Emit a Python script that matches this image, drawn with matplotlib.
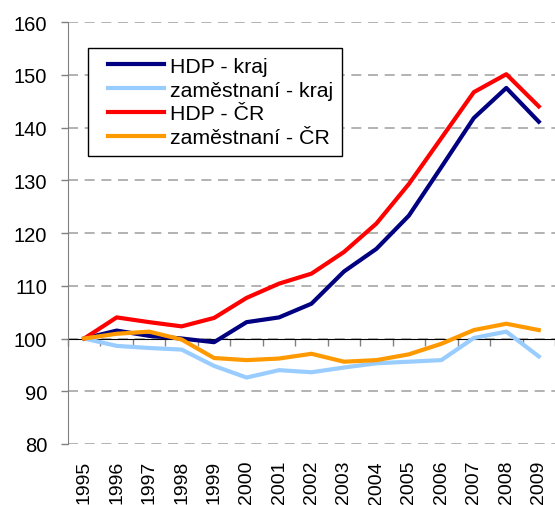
import matplotlib.pyplot as plt
from matplotlib.lines import Line2D
from matplotlib.legend_handler import HandlerLine2D

plt.rcParams['font.family'] = ['Liberation Sans', 'DejaVu Sans']

years = [str(y) for y in range(1995, 2010)]
hdp_kraj = [100, 101.5, 100.5, 100.0, 99.3, 103.1, 104.0, 106.6, 112.7, 117.0,
            123.3, 132.5, 141.8, 147.5, 141.1]
zam_kraj = [100, 98.6, 98.2, 97.9, 94.8, 92.6, 94.0, 93.6, 94.5, 95.3,
            95.6, 95.9, 100.1, 101.3, 96.6]
hdp_cr = [100, 104.0, 103.1, 102.3, 103.9, 107.7, 110.4, 112.3, 116.4, 121.8,
          129.3, 138.0, 146.7, 150.1, 144.0]
zam_cr = [100, 100.9, 101.3, 99.8, 96.3, 95.9, 96.2, 97.1, 95.6, 95.9,
          97.0, 99.0, 101.6, 102.8, 101.6]

fig = plt.figure(figsize=(5.55, 5.06), dpi=100)
ax = fig.add_axes([68 / 555, 1 - 445 / 506, 487 / 555, 422 / 506])

x = list(range(len(years)))
ax.plot(x, hdp_kraj, color='#000080', lw=3, label='HDP - kraj')
ax.plot(x, zam_kraj, color='#99CCFF', lw=3, label='zaměstnaní - kraj')
ax.plot(x, hdp_cr, color='#FF0000', lw=3, label='HDP - ČR')
ax.plot(x, zam_cr, color='#FF9900', lw=3, label='zaměstnaní - ČR')

ax.set_ylim(80, 160)
ax.set_xlim(-0.5, 14.32)
ax.set_yticks(range(80, 161, 10))
ax.yaxis.grid(True, linestyle=(0, (6, 4)), color='#A6A6A6', lw=1.2)
ax.set_axisbelow(True)
ax.tick_params(axis='y', labelsize=14.5, length=5, width=1, color='#808080', pad=10)

for s in ['top', 'right']:
    ax.spines[s].set_visible(False)
ax.spines['left'].set_color('#808080')
ax.spines['bottom'].set_position(('data', 100))
ax.spines['bottom'].set_color('black')
ax.spines['bottom'].set_zorder(1)

# ticks between categories on the 100 line
ax.set_xticks([i - 0.5 for i in range(len(years) + 1)])
ax.set_xticklabels([])
ax.tick_params(axis='x', length=5, width=1, color='#808080')

# year labels stay at the bottom of the plot
sec = ax.secondary_xaxis(0)
sec.set_xticks(x, labels=years, rotation=90, fontsize=14)
sec.tick_params(length=0, pad=11.5)
sec.spines['bottom'].set_visible(False)

leg = ax.legend(loc='upper left', bbox_to_anchor=(20 / 487, 1 - 26 / 422),
                borderaxespad=0, fontsize=15.3, frameon=True, fancybox=False,
                edgecolor='black', handlelength=3.15, handletextpad=0.3,
                labelspacing=0.22, borderpad=0.42,
                handler_map={Line2D: HandlerLine2D(xpad=0.5)})
leg.get_frame().set_linewidth(1)
leg.get_frame().set_alpha(1)

fig.savefig('out.png', dpi=100)
